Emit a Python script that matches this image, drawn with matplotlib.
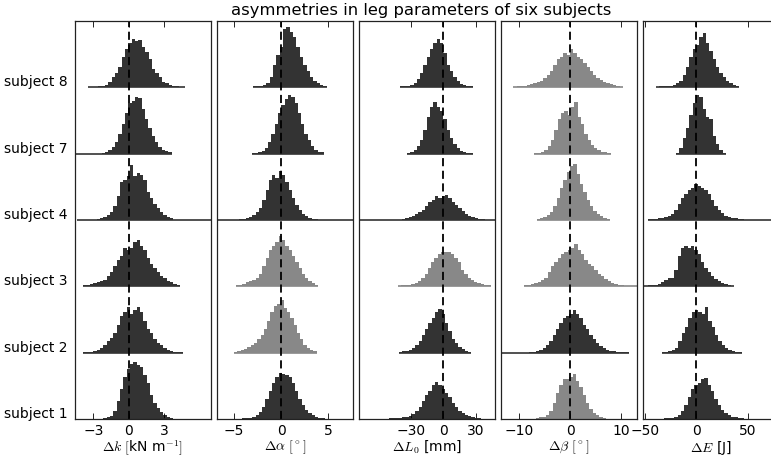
import matplotlib
matplotlib.use("Agg")
import matplotlib.pyplot as plt
import numpy as np

plt.rcParams['font.family'] = ['DejaVu Sans']
plt.rcParams['mathtext.fontset'] = 'cm'

# Subjects, stacked bottom to top
SUBJECTS = ["subject 1", "subject 2", "subject 3", "subject 4", "subject 7", "subject 8"]

TITLE = "asymmetries in leg parameters of six subjects"
XLABELS = [r'$\Delta k\ [$kN m$^{-1}]$', r'$\Delta \alpha\ [^\circ]$',
           r'$\Delta L_0$ [mm]', r'$\Delta \beta\ [^\circ]$', r'$\Delta E$ [J]']
XTICKS = [[-3, 0, 3], [-5, 0, 5], [-30, 0, 30], [-10, 0, 10], [-50, 0, 50]]
XLIMS = [(-4.58, 7.0), (-6.86, 7.7), (-78.3, 48.0), (-13.6, 13.07), (-52.3, 80.6)]

# Histogram bin ranges (lo, hi) per subject, bin heights per subject,
# baseline spans, and shade per subject (True = light gray)
DK_RANGE = [(-2.15, 3.79), (-3.84, 4.63), (-3.84, 4.35), (-2.71, 3.79), (-2.29, 3.64), (-3.42, 4.80)]
DK_HEIGHTS = [
    [1, 1.5, 3, 8, 18, 30, 42, 50, 55, 57, 54, 52, 44, 36, 24, 16, 11, 7, 4, 2, 1],
    [0.5, 1, 1, 2, 3, 5, 8, 12, 15, 20, 28, 36, 40, 45, 38, 42, 45, 40, 32, 24, 20, 14, 10, 8, 5, 3, 2, 1, 1, 0.5],
    [1, 1, 2, 3, 4, 5, 6, 10, 14, 20, 26, 30, 38, 36, 38, 44, 46, 40, 36, 28, 22, 18, 14, 10, 8, 5, 4, 2, 1],
    [1, 2, 3, 5, 8, 14, 24, 38, 40, 44, 55, 44, 47, 45, 40, 28, 22, 16, 12, 8, 5, 3, 1.5],
    [1, 2, 4, 7, 12, 20, 30, 40, 50, 52, 56, 55, 44, 34, 26, 18, 12, 7, 4, 3, 1.5],
    [0.5, 0.5, 0.5, 1, 1, 2, 5, 10, 14, 20, 30, 38, 44, 48, 46, 47, 40, 35, 28, 18, 14, 10, 5, 4, 2, 1.5, 1, 0.5, 0.5],
]
DK_SPAN = [None, None, None, (-4.4, 8.0), (-5.0, 3.64), None]
DK_LIGHT = [False, False, False, False, False, False]

DA_RANGE = [(-4.12, 4.68), (-5.0, 3.80), (-4.82, 3.98), (-4.47, 3.98), (-3.13, 4.61), (-2.99, 4.86)]
DA_HEIGHTS = [
    [0.5, 1, 1, 2, 4, 7, 12, 20, 28, 36, 42, 46, 45, 44, 42, 36, 28, 20, 14, 9, 6, 4, 2, 1, 0.5],
    [1, 2, 3, 4, 6, 8, 10, 14, 18, 24, 32, 40, 46, 48, 52, 44, 40, 34, 28, 20, 14, 8, 5, 3, 1.5],
    [1, 1.5, 2, 4, 5, 6, 8, 12, 20, 28, 36, 40, 44, 50, 46, 40, 36, 30, 24, 18, 12, 8, 5, 3, 1.5],
    [0.5, 1, 2, 3, 5, 8, 12, 20, 30, 40, 45, 42, 49, 45, 38, 30, 22, 15, 10, 6, 4, 2, 1, 0.5],
    [1, 1, 2, 3, 6, 12, 20, 30, 40, 48, 54, 58, 56, 50, 40, 30, 20, 14, 8, 4, 2, 1.5],
    [1, 1, 1.5, 2, 4, 10, 22, 32, 40, 58, 60, 55, 50, 40, 30, 22, 16, 10, 6, 4, 2, 1.5],
]
DA_SPAN = [None, None, None, (-8.0, 9.0), None, None]
DA_LIGHT = [False, True, True, False, False, False]

DL_RANGE = [(-50.5, 35.2), (-41.3, 26.0), (-41.9, 43.8), (-38.3, 38.3), (-33.7, 27.5), (-39.8, 27.5)]
DL_HEIGHTS = [
    [0.5, 0.5, 1, 1, 1.5, 2, 3, 5, 8, 12, 18, 24, 28, 34, 37, 34, 30, 26, 22, 16, 12, 8, 6, 4, 3, 2, 1, 0.5],
    [1, 1.5, 2, 3, 5, 8, 12, 18, 24, 30, 34, 40, 43, 38, 30, 22, 14, 10, 6, 4, 2, 1],
    [0.5, 1, 1, 1.5, 2, 3, 5, 8, 12, 18, 24, 28, 32, 34, 34, 34, 32, 28, 24, 16, 12, 8, 6, 4, 3, 2, 1, 1],
    [1, 2, 3, 4, 6, 8, 10, 14, 18, 20, 24, 22, 24, 25, 22, 18, 15, 12, 9, 6, 4, 3, 2, 1, 0.5],
    [1, 2, 4, 8, 14, 24, 36, 46, 51, 46, 42, 34, 24, 16, 10, 6, 3, 2, 1, 0.5],
    [1, 1, 1, 2, 4, 8, 14, 22, 30, 38, 44, 48, 44, 34, 22, 16, 10, 6, 3, 2, 1, 1],
]
DL_SPAN = [None, None, None, (-90.0, 60.0), None, None]
DL_LIGHT = [False, False, True, False, False, False]

DB_RANGE = [(-6.69, 6.95), (-8.0, 11.5), (-8.96, 11.2), (-6.56, 7.73), (-7.0, 7.9), (-11.1, 10.3)]
DB_HEIGHTS = [
    [1, 1.5, 2, 4, 8, 16, 26, 34, 40, 40, 42, 45, 38, 32, 24, 16, 10, 6, 4, 2, 1],
    [0.5, 1, 2, 3, 5, 8, 12, 18, 24, 30, 34, 36, 38, 42, 38, 34, 28, 24, 18, 14, 10, 7, 5, 3, 2, 1.5, 1, 0.5, 0.5, 0.5],
    [1, 1.5, 2, 3, 4, 6, 8, 14, 20, 24, 28, 32, 34, 36, 38, 42, 36, 32, 26, 22, 20, 16, 12, 10, 7, 5, 3, 2, 1.5, 1, 0.5],
    [1, 2, 3, 5, 8, 14, 22, 32, 40, 48, 54, 56, 46, 36, 28, 20, 14, 9, 6, 4, 2, 1],
    [1, 1, 2, 4, 8, 14, 24, 34, 40, 42, 38, 46, 51, 36, 30, 20, 14, 9, 6, 4, 2, 1.5, 1],
    [0.5, 1, 1, 1.5, 2, 3, 4, 5, 6, 9, 12, 16, 22, 28, 30, 34, 32, 38, 34, 30, 28, 24, 20, 16, 12, 9, 7, 5, 4, 3, 2, 1, 0.5],
]
DB_SPAN = [None, (-15.0, 11.5), (-8.96, 15.0), None, None, None]
DB_LIGHT = [True, False, True, True, True, True]

DE_RANGE = [(-31.2, 46.8), (-33.8, 44.2), (-50.6, 37.0), (-47.4, 46.8), (-19.8, 28.9), (-39.3, 41.9)]
DE_HEIGHTS = [
    [0.5, 1, 1, 2, 4, 8, 14, 22, 30, 34, 36, 40, 41, 34, 28, 20, 14, 9, 6, 4, 2, 1.5, 1, 0.5],
    [0.5, 1, 1.5, 3, 5, 12, 20, 26, 34, 40, 42, 40, 38, 45, 32, 26, 18, 12, 8, 5, 3, 2, 1, 0.5],
    [0.5, 1, 1, 1.5, 2, 4, 6, 8, 8, 16, 30, 38, 40, 38, 40, 36, 32, 24, 18, 14, 10, 7, 5, 3, 2, 1, 0.5],
    [0.5, 0.5, 1, 1.5, 2, 3, 4, 6, 10, 16, 22, 26, 30, 32, 36, 34, 32, 30, 26, 20, 14, 10, 7, 4, 3, 2, 1.5, 1, 0.5],
    [1, 6, 16, 26, 38, 50, 58, 56, 44, 36, 34, 18, 10, 4, 1],
    [0.5, 1, 1, 1, 1.5, 2, 4, 6, 12, 20, 30, 38, 42, 50, 54, 44, 36, 28, 20, 14, 10, 6, 4, 2, 1],
]
DE_SPAN = [None, None, (-60.0, 37.0), (-47.4, 90.0), None, None]
DE_LIGHT = [False, False, False, False, False, False]

COLUMNS = [
    (DK_RANGE, DK_HEIGHTS, DK_SPAN, DK_LIGHT),
    (DA_RANGE, DA_HEIGHTS, DA_SPAN, DA_LIGHT),
    (DL_RANGE, DL_HEIGHTS, DL_SPAN, DL_LIGHT),
    (DB_RANGE, DB_HEIGHTS, DB_SPAN, DB_LIGHT),
    (DE_RANGE, DE_HEIGHTS, DE_SPAN, DE_LIGHT),
]

DARK = '#333333'
LIGHT = '#888888'
BAND = 66.0

W, H = 771, 458
fig = plt.figure(figsize=(W / 100, H / 100), dpi=100)

for i, (rng, heights, spans, light) in enumerate(COLUMNS):
    left = 74.7 + 142.0 * i
    ax = fig.add_axes([left / W, 39.0 / H, 136.5 / W, 398.0 / H])
    for j in range(len(SUBJECTS)):
        base = j * BAND
        h = np.asarray(heights[j], dtype=float)
        lo, hi = rng[j]
        edges = np.linspace(lo, hi, len(h) + 1)
        color = LIGHT if light[j] else DARK
        ax.stairs(h + base, edges, baseline=base, fill=True, color=color, lw=0)
        span = spans[j] if spans[j] is not None else (lo, hi)
        ax.plot(span, [base, base], color=color, lw=1.2, solid_capstyle='butt')
    ax.axvline(0, color='k', ls=(0, (4.5, 2.5)), lw=1.3)
    ax.set_xlim(*XLIMS[i])
    ax.set_ylim(0, BAND * len(SUBJECTS))
    ax.set_xticks(XTICKS[i])
    ax.tick_params(axis='x', direction='in', top=True, bottom=True,
                   length=4, width=0.6, labelsize=10, pad=3.5)
    ax.set_xlabel(XLABELS[i], fontsize=10, labelpad=0.5)
    for s in ax.spines.values():
        s.set_linewidth(0.9)
        s.set_color('#222222')
    if i == 0:
        ax.set_yticks([j * BAND + 0.1 * BAND for j in range(len(SUBJECTS))])
        ax.set_yticklabels(SUBJECTS, fontsize=10)
        ax.tick_params(axis='y', length=0, pad=5)
    else:
        ax.set_yticks([])

fig.text(421 / W, 1 - 10.5 / H, TITLE, ha='center', va='center', fontsize=11.8)

fig.savefig("out.png", dpi=100)
